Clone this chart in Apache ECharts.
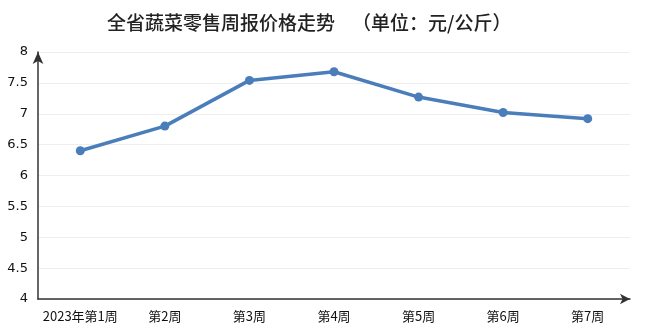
<!DOCTYPE html>
<html><head><meta charset="utf-8">
<script src="https://cdn.jsdelivr.net/npm/echarts@6/dist/echarts.min.js"></script>
<style>html,body{margin:0;padding:0;background:#fff}#c{width:645px;height:333px}</style>
</head><body><div id="c"></div>
<script>
var categories = ['2023年第1周','第2周','第3周','第4周','第5周','第6周','第7周'];
var prices = [6.40, 6.80, 7.54, 7.68, 7.27, 7.02, 6.92];
var titleText = '全省蔬菜零售周报价格走势    （单位：元/公斤）';

var chart = echarts.init(document.getElementById('c'));
chart.setOption({
  animation: false,
  backgroundColor: '#fff',
  title: {
    text: titleText, left: 102, top: 8,
    textStyle: {fontFamily: 'Noto Sans CJK SC', fontSize: 19, fontWeight: 500, color: '#222'}
  },
  grid: {left: 38, right: 15, top: 52, bottom: 34},
  xAxis: {
    type: 'category', data: categories, boundaryGap: true,
    axisLine: {show: true, lineStyle: {color: '#333', width: 1.5}, symbol: ['none','arrow'], symbolSize: [8, 10]},
    axisTick: {show: false},
    axisLabel: {interval: 0, color: '#111', fontSize: 13, fontFamily: 'Noto Sans CJK SC', margin: 11}
  },
  yAxis: {
    type: 'value', min: 4, max: 8, interval: 0.5,
    axisLine: {show: true, lineStyle: {color: '#333', width: 1.5}, symbol: ['none','arrow'], symbolSize: [8, 12]},
    axisTick: {show: false},
    splitLine: {lineStyle: {color: '#eeeeee'}},
    axisLabel: {color: '#111', fontSize: 13, fontFamily: 'DejaVu Sans', margin: 10}
  },
  series: [{
    type: 'line', data: prices,
    symbol: 'circle', symbolSize: 9,
    lineStyle: {color: '#4a7ebb', width: 3.5},
    itemStyle: {color: '#4a7ebb'}
  }]
});
</script></body></html>
